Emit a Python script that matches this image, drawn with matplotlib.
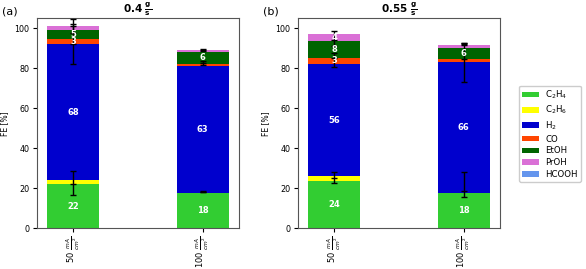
import matplotlib
matplotlib.use("Agg")
import matplotlib.pyplot as plt
import numpy as np

species = ["C$_2$H$_4$", "C$_2$H$_6$", "H$_2$", "CO", "EtOH", "PrOH", "HCOOH"]
colors = ["#32CD32", "#FFFF00", "#0000CD", "#FF4500", "#006400", "#DA70D6", "#6495ED"]
categories = [r"50 $\frac{mA}{cm^2}$", r"100 $\frac{mA}{cm^2}$"]
titles = [r"0.4 $\mathbf{\frac{g}{s}}$", r"0.55 $\mathbf{\frac{g}{s}}$"]
panel_labels = ["(a)", "(b)"]

# FE values per species [bar 50, bar 100]
fe_a = {
    "C2H4": [22.0, 17.8],
    "C2H6": [2.0, 0.0],
    "H2": [68.2, 63.3],
    "CO": [2.6, 1.3],
    "EtOH": [4.6, 5.8],
    "PrOH": [2.0, 0.9],
    "HCOOH": [0.0, 0.0],
}
fe_b = {
    "C2H4": [23.8, 17.8],
    "C2H6": [2.2, 0.0],
    "H2": [56.2, 65.6],
    "CO": [3.0, 1.2],
    "EtOH": [8.3, 5.7],
    "PrOH": [3.9, 1.5],
    "HCOOH": [0.0, 0.0],
}

# error bars: (bar index, y position, lower err, upper err)
err_a = [(0, 22.0, 5.5, 6.5), (0, 92.2, 10.0, 10.0), (0, 101.0, 3.5, 3.5),
         (1, 18.4, 0.4, 0.4), (1, 82.5, 1.0, 1.0), (1, 89.0, 0.5, 0.5)]
err_b = [(0, 25.2, 2.7, 2.8), (0, 85.0, 4.3, 2.5), (0, 94.0, 3.0, 4.8),
         (1, 18.8, 3.0, 9.5), (1, 84.5, 11.2, 8.0), (1, 92.0, 0.5, 0.5)]

W, H = 586, 269
fig = plt.figure(figsize=(W / 100, H / 100), dpi=100)
ax_pos = [[37 / W, (H - 228.3) / H, 202 / W, 210 / H],
          [298 / W, (H - 228.3) / H, 202 / W, 210 / H]]

for i, (fe, errs) in enumerate([(fe_a, err_a), (fe_b, err_b)]):
    ax = fig.add_axes(ax_pos[i])
    x = np.arange(len(categories))
    bottom = np.zeros(len(categories))
    for (key, vals), col, name in zip(fe.items(), colors, species):
        vals = np.array(vals)
        ax.bar(x, vals, 0.4, bottom=bottom, color=col, label=name, zorder=2)
        for xi, v, b in zip(x, vals, bottom):
            if round(v) >= 3:
                ax.text(xi, b + v / 2, f"{round(v)}", color="white", fontsize=6,
                        fontweight="bold", ha="center", va="center", zorder=6)
        bottom = bottom + vals
    for (bi, yv, lo, hi) in errs:
        ax.errorbar(x[bi], yv, yerr=[[lo], [hi]], fmt="_", color="black",
                    ecolor="black", elinewidth=1, capsize=2.5, capthick=1,
                    markersize=4, zorder=5)
    ax.set_ylim(0, 105)
    ax.set_xlim(-0.28, 1.28)
    ax.set_yticks([0, 20, 40, 60, 80, 100])
    ax.set_xticks(x)
    ax.set_xticklabels(categories, rotation=90, fontsize=6)
    ax.tick_params(axis="y", labelsize=5.8, length=3, pad=2.5)
    ax.tick_params(axis="x", length=3, pad=2)
    ax.set_ylabel("FE [%]", fontsize=5.5)
    ax.yaxis.set_label_coords(-28 / 202, 0.5)
    ax.set_title(titles[i], fontsize=7.5, fontweight="bold", pad=3)
    for s in ax.spines.values():
        s.set_color("#555555")
    fig.text([2 / W, 263 / W][i], 1 - 12 / H, panel_labels[i], fontsize=8,
             ha="left", va="center")
    if i == 1:
        handles, labels = ax.get_legend_handles_labels()

fig.legend(handles, labels, loc="upper left", bbox_to_anchor=(519 / W, 1 - 85.5 / H),
           fontsize=6.2, frameon=True, handlelength=2.0, handleheight=0.6,
           labelspacing=0.33, borderpad=0.35, borderaxespad=0, handletextpad=0.7,
           framealpha=1, edgecolor="#cccccc", fancybox=True)

fig.savefig("out.png", dpi=100)
